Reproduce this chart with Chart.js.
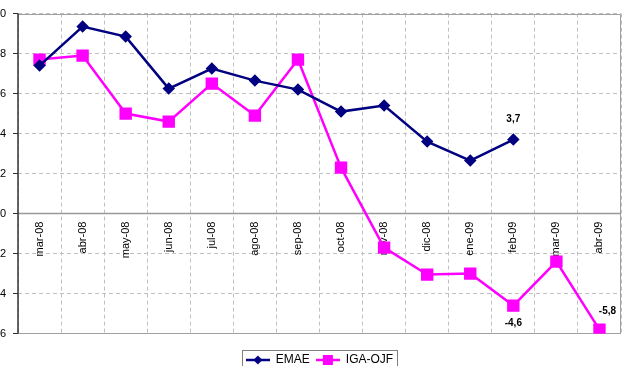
<!DOCTYPE html>
<html>
<head>
<meta charset="utf-8">
<script src="https://cdn.jsdelivr.net/npm/chart.js@4.4.1/dist/chart.umd.min.js"></script>
<style>
  body { margin: 0; overflow: hidden; background: #fff; }
  #wrap { position: absolute; left: -20px; top: 0; width: 679px; height: 376px; }
</style>
</head>
<body>
<div id="wrap"><canvas id="chart"></canvas></div>
<script>
// meses
const labels = ["mar-08","abr-08","may-08","jun-08","jul-08","ago-08","sep-08","oct-08","nov-08","dic-08","ene-09","feb-09","mar-09","abr-09"];

const emae = [7.4, 9.35, 8.85, 6.25, 7.25, 6.65, 6.2, 5.1, 5.4, 3.6, 2.65, 3.7, null, null];
const igaOjf = [7.7, 7.9, 5.0, 4.6, 6.5, 4.9, 7.7, 2.3, -1.7, -3.05, -3.0, -4.6, -2.4, -5.8];

const yTicks = [-6, -4, -2, 0, 2, 4, 6, 8, 10];

// valores con etiqueta: [serie, indice]
const marcados = [[0, 11], [1, 11], [1, 13]];
const offsets = [[0, -20], [0, 18], [8, -18]];

function icono(color, forma) {
    const c = document.createElement("canvas");
    c.width = 24; c.height = 12;
    const g = c.getContext("2d");
    g.strokeStyle = color;
    g.lineWidth = 2.5;
    g.beginPath(); g.moveTo(0, 6); g.lineTo(24, 6); g.stroke();
    g.fillStyle = color;
    if (forma == "rombo") {
        g.beginPath(); g.moveTo(12, 1.5); g.lineTo(16.5, 6); g.lineTo(12, 10.5); g.lineTo(7.5, 6); g.closePath(); g.fill();
    } else {
        g.fillRect(7, 1, 10, 10);
    }
    return c;
}
const iconos = [icono("#000080", "rombo"), icono("#ff00ff", "cuadro")];

const marco = {
    id: "marco",
    beforeDatasetsDraw(chart) {
        const a = chart.chartArea, ctx = chart.ctx;
        ctx.save();
        ctx.setLineDash([]);
        ctx.strokeStyle = "#a0a0a0";
        ctx.lineWidth = 1;
        ctx.beginPath();
        ctx.moveTo(a.left, Math.round(a.top) + 0.5);
        ctx.lineTo(Math.round(a.right) - 0.5, Math.round(a.top) + 0.5);
        ctx.lineTo(Math.round(a.right) - 0.5, Math.round(a.bottom) - 0.5);
        ctx.lineTo(a.left, Math.round(a.bottom) - 0.5);
        ctx.stroke();
        // ejes
        const y0 = chart.scales.y.getPixelForValue(0);
        ctx.strokeStyle = "#999";
        ctx.lineWidth = 1.5;
        ctx.beginPath();
        ctx.moveTo(a.left, y0); ctx.lineTo(a.right, y0);
        ctx.stroke();
        ctx.strokeStyle = "#333";
        ctx.beginPath();
        ctx.moveTo(a.left, a.top); ctx.lineTo(a.left, a.bottom);
        ctx.stroke();
        ctx.restore();
    },
    afterDraw(chart) {
        const boxes = chart.legend.legendHitBoxes;
        if (!boxes || !boxes.length) return;
        const ctx = chart.ctx;
        const last = boxes[boxes.length - 1];
        const l = boxes[0].left - 4, r = last.left + last.width + 4;
        const t = boxes[0].top - 4, b = boxes[0].top + boxes[0].height + 6;
        ctx.save();
        ctx.strokeStyle = "#808080";
        ctx.lineWidth = 1;
        ctx.strokeRect(Math.round(l) + 0.5, Math.round(t) + 0.5, Math.round(r - l), Math.round(b - t));
        ctx.restore();
    }
};

const etiquetas = {
    id: "etiquetas",
    afterDatasetsDraw(chart) {
        const ctx = chart.ctx;
        ctx.save();
        ctx.font = "bold 10px 'Liberation Sans', Arial, sans-serif";
        ctx.fillStyle = "#000";
        ctx.textAlign = "center";
        ctx.textBaseline = "middle";
        marcados.forEach(function(m, i) {
            const pt = chart.getDatasetMeta(m[0]).data[m[1]];
            const v = chart.data.datasets[m[0]].data[m[1]];
            ctx.fillText(v.toFixed(1).replace(".", ","), pt.x + offsets[i][0], pt.y + offsets[i][1]);
        });
        ctx.restore();
    }
};

const fuente = { family: "'Liberation Sans', Arial, sans-serif", size: 11 };

const config = {
    type: "line",
    data: {
        labels: labels,
        datasets: [
            {
                label: "EMAE",
                data: emae,
                borderColor: "#000080",
                backgroundColor: "#000080",
                borderWidth: 2.5,
                pointStyle: "rectRot",
                pointRadius: 4.5,
                pointHoverRadius: 4.5,
                tension: 0
            },
            {
                label: "IGA-OJF",
                data: igaOjf,
                borderColor: "#ff00ff",
                backgroundColor: "#ff00ff",
                borderWidth: 2.5,
                pointStyle: "rect",
                pointRadius: 7,
                pointHoverRadius: 7,
                tension: 0
            }
        ]
    },
    options: {
        responsive: true,
        maintainAspectRatio: false,
        animation: false,
        layout: { padding: { top: 12, right: 0, bottom: 0, left: 0 } },
        plugins: {
            tooltip: { enabled: false },
            legend: {
                position: "bottom",
                title: { display: true, text: "", padding: { top: 12, bottom: 0 }, font: { size: 2 } },
                labels: {
                    usePointStyle: true,
                    pointStyleWidth: 24,
                    boxHeight: 12,
                    padding: 6,
                    color: "#000",
                    font: { family: "'Liberation Sans', Arial, sans-serif", size: 12 },
                    generateLabels(chart) {
                        const items = Chart.defaults.plugins.legend.labels.generateLabels(chart);
                        items.forEach(function(it, i) { it.pointStyle = iconos[i]; });
                        return items;
                    }
                }
            }
        },
        scales: {
            x: {
                position: { y: 0 },
                offset: true,
                grid: {
                    offset: true,
                    color: "#c0c0c0",
                    drawTicks: false
                },
                border: { display: false, dash: [4, 3] },
                ticks: {
                    minRotation: 90,
                    maxRotation: 90,
                    autoSkip: false,
                    padding: 8,
                    color: "#000",
                    font: fuente
                }
            },
            y: {
                min: -6,
                max: 10,
                afterFit(scale) { scale.width = 38; },
                afterBuildTicks(scale) { scale.ticks = yTicks.map(function(v) { return { value: v }; }); },
                grid: {
                    color: "#c0c0c0",
                    tickLength: 5,
                    tickColor: "#333",
                    tickBorderDash: []
                },
                border: { display: false, dash: [4, 3] },
                ticks: {
                    padding: 7,
                    color: "#000",
                    font: fuente
                }
            },
            // eje vacio a la derecha para centrar la leyenda
            y2: {
                position: "right",
                min: -6,
                max: 10,
                afterFit(scale) { scale.width = 38; },
                grid: { display: false },
                border: { display: false },
                ticks: { display: false }
            }
        }
    },
    plugins: [marco, etiquetas]
};

const chart = new Chart(document.getElementById("chart"), config);
</script>
</body>
</html>
